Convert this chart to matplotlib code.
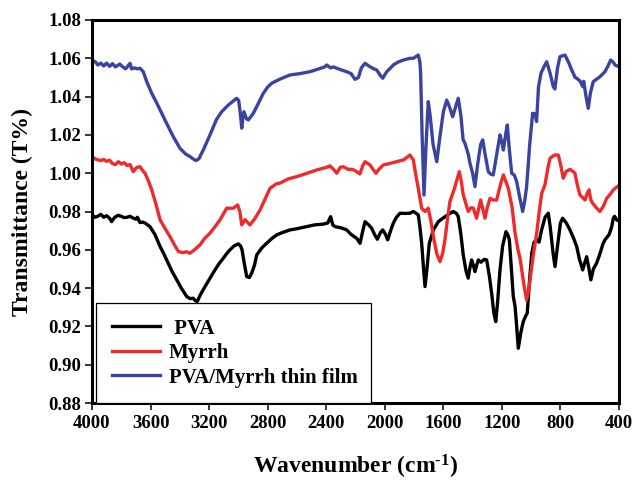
import matplotlib
matplotlib.use("Agg")
import matplotlib.pyplot as plt
import numpy as np

# ---------------- data ----------------
film_wn = [4000, 3975, 3960, 3940, 3920, 3900, 3880, 3860, 3840, 3810, 3790, 3770, 3740, 3730, 3710, 3690,
           3672, 3650, 3626, 3592, 3560, 3524, 3490, 3445, 3399, 3360, 3331, 3310, 3290, 3270, 3240, 3194,
           3150, 3114, 3069, 3012, 2998, 2985, 2977, 2968, 2962, 2945, 2932, 2898, 2860, 2830, 2800, 2772,
           2720, 2647, 2580, 2511, 2450, 2410, 2397, 2370, 2350, 2328, 2300, 2260, 2230, 2203, 2180, 2160,
           2135, 2101, 2075, 2055, 2030, 2014, 1987, 1960, 1942, 1910, 1873, 1828, 1805, 1785, 1771, 1760,
           1755, 1745, 1732, 1718, 1703, 1690, 1670, 1645, 1625, 1600, 1577, 1555, 1536, 1515, 1498, 1480,
           1465, 1452, 1430, 1418, 1400, 1384, 1365, 1345, 1331, 1315, 1293, 1276, 1259, 1235, 1213, 1200,
           1190, 1175, 1163, 1150, 1133, 1115, 1099, 1080, 1058, 1045, 1031, 1010, 990, 975, 963, 950, 933,
           910, 894, 870, 849, 838, 820, 803, 769, 745, 723, 700, 689, 665, 648, 641, 625, 610, 595, 576,
           555, 530, 496, 475, 457, 440, 427, 400]
film_t = [1.0591, 1.0580, 1.0565, 1.0575, 1.0560, 1.0575, 1.0558, 1.0572, 1.0555, 1.0570, 1.0555, 1.0545,
          1.0574, 1.0545, 1.0550, 1.0545, 1.0548, 1.0530, 1.0478, 1.0417, 1.0370, 1.0313, 1.0260, 1.0191,
          1.0130, 1.0100, 1.0087, 1.0075, 1.0066, 1.0075, 1.0121, 1.0200, 1.0280, 1.0321, 1.0356, 1.0391,
          1.0380, 1.0300, 1.0235, 1.0300, 1.0321, 1.0285, 1.0278, 1.0313, 1.0370, 1.0417, 1.0450, 1.0470,
          1.0490, 1.0513, 1.0520, 1.0530, 1.0545, 1.0555, 1.0565, 1.0550, 1.0555, 1.0548, 1.0540, 1.0530,
          1.0520, 1.0490, 1.0500, 1.0550, 1.0574, 1.0556, 1.0545, 1.0539, 1.0510, 1.0496, 1.0530, 1.0550,
          1.0565, 1.0580, 1.0591, 1.0600, 1.0600, 1.0610, 1.0617, 1.0580, 1.0520, 1.0200, 0.9886, 1.0150,
          1.0374, 1.0300, 1.0150, 1.0060, 1.0180, 1.0320, 1.0382, 1.0340, 1.0295, 1.0350, 1.0391, 1.0300,
          1.0175, 1.0156, 1.0100, 1.0052, 1.0000, 0.9930, 1.0050, 1.0150, 1.0174, 1.0100, 1.0008, 0.9995,
          0.9991, 1.0100, 1.0200, 1.0160, 1.0121, 1.0200, 1.0252, 1.0130, 1.0000, 0.9990, 0.9956, 0.9880,
          0.9800, 0.9850, 0.9930, 1.0150, 1.0313, 1.0310, 1.0270, 1.0450, 1.0522, 1.0560, 1.0582, 1.0520,
          1.0452, 1.0440, 1.0550, 1.0609, 1.0617, 1.0580, 1.0539, 1.0500, 1.0496, 1.0480, 1.0452, 1.0480,
          1.0400, 1.0339, 1.0420, 1.0478, 1.0490, 1.0504, 1.0530, 1.0560, 1.0591, 1.0580, 1.0565, 1.0556]

myrrh_wn = [4000, 3980, 3960, 3940, 3920, 3900, 3880, 3860, 3840, 3820, 3800, 3780, 3760, 3740, 3718, 3695,
            3672, 3655, 3638, 3615, 3592, 3560, 3535, 3500, 3467, 3440, 3410, 3380, 3355, 3331, 3300, 3262,
            3230, 3194, 3160, 3126, 3100, 3080, 3035, 3005, 2990, 2977, 2955, 2921, 2890, 2852, 2815, 2784,
            2740, 2716, 2660, 2602, 2530, 2465, 2400, 2374, 2350, 2328, 2305, 2283, 2250, 2220, 2192, 2170,
            2150, 2135, 2101, 2080, 2060, 2040, 2010, 1970, 1919, 1870, 1828, 1805, 1790, 1771, 1748, 1725,
            1703, 1685, 1668, 1645, 1623, 1605, 1589, 1570, 1555, 1527, 1491, 1478, 1464, 1430, 1410, 1395,
            1373, 1345, 1316, 1300, 1281, 1260, 1236, 1210, 1190, 1156, 1130, 1110, 1090, 1076, 1050, 1031,
            1015, 996, 980, 962, 945, 928, 906, 885, 871, 840, 815, 800, 781, 760, 735, 715, 701, 685, 667,
            645, 632, 620, 605, 592, 580, 555, 530, 505, 484, 460, 439, 420, 405]
myrrh_t = [1.0087, 1.0075, 1.0070, 1.0065, 1.0072, 1.0062, 1.0068, 1.0050, 1.0045, 1.0060, 1.0048, 1.0055,
           1.0040, 1.0045, 1.0008, 1.0030, 1.0034, 1.0015, 1.0000, 0.9960, 0.9913, 0.9830, 0.9756, 0.9710,
           0.9669, 0.9630, 0.9591, 0.9585, 0.9590, 0.9582, 0.9600, 0.9626, 0.9660, 0.9687, 0.9720, 0.9756,
           0.9790, 0.9817, 0.9817, 0.9834, 0.9800, 0.9730, 0.9757, 0.9730, 0.9760, 0.9808, 0.9870, 0.9921,
           0.9945, 0.9948, 0.9970, 0.9982, 1.0000, 1.0017, 1.0030, 1.0038, 1.0020, 1.0000, 1.0030, 1.0034,
           1.0020, 1.0020, 1.0008, 0.9996, 1.0040, 1.0060, 1.0043, 1.0020, 1.0000, 1.0020, 1.0043, 1.0050,
           1.0060, 1.0070, 1.0095, 1.0069, 1.0000, 0.9921, 0.9817, 0.9800, 0.9817, 0.9750, 0.9669, 0.9580,
           0.9538, 0.9580, 0.9652, 0.9770, 0.9852, 0.9913, 1.0008, 0.9960, 0.9887, 0.9800, 0.9820, 0.9817,
           0.9765, 0.9860, 0.9765, 0.9820, 0.9869, 0.9860, 0.9860, 0.9940, 0.9991, 0.9921, 0.9820, 0.9687,
           0.9600, 0.9556, 0.9420, 0.9338, 0.9400, 0.9512, 0.9600, 0.9687, 0.9800, 0.9895, 0.9939, 1.0030,
           1.0078, 1.0095, 1.0095, 1.0050, 0.9974, 1.0010, 1.0020, 1.0010, 1.0000, 0.9940, 0.9887, 0.9870,
           0.9860, 0.9890, 0.9913, 0.9860, 0.9843, 0.9820, 0.9800, 0.9830, 0.9869, 0.9890, 0.9913, 0.9925,
           0.9933]

pva_wn = [4000, 3980, 3960, 3940, 3920, 3900, 3880, 3866, 3845, 3820, 3800, 3780, 3760, 3740, 3718, 3700,
          3690, 3672, 3655, 3638, 3604, 3570, 3535, 3510, 3490, 3455, 3421, 3390, 3353, 3330, 3308, 3295,
          3281, 3260, 3228, 3195, 3160, 3130, 3103, 3080, 3057, 3030, 3001, 2985, 2975, 2960, 2943, 2925,
          2909, 2890, 2875, 2840, 2807, 2770, 2738, 2700, 2647, 2600, 2533, 2480, 2420, 2390, 2370, 2355,
          2340, 2300, 2260, 2230, 2192, 2169, 2150, 2135, 2110, 2090, 2070, 2051, 2030, 2014, 1995, 1980,
          1960, 1942, 1920, 1896, 1860, 1828, 1805, 1785, 1771, 1760, 1748, 1735, 1725, 1712, 1696, 1668,
          1634, 1589, 1555, 1532, 1510, 1498, 1480, 1464, 1445, 1430, 1420, 1407, 1395, 1384, 1372, 1361,
          1343, 1320, 1304, 1285, 1270, 1255, 1242, 1230, 1213, 1195, 1172, 1160, 1149, 1135, 1122, 1110,
          1100, 1088, 1070, 1054, 1040, 1027, 1010, 996, 980, 962, 946, 930, 905, 883, 870, 850, 837, 820,
          800, 785, 760, 735, 710, 689, 670, 648, 635, 621, 605, 592, 575, 553, 530, 510, 496, 467, 450,
          439, 430, 416, 400]
pva_t = [0.9782, 0.9770, 0.9775, 0.9785, 0.9770, 0.9778, 0.9765, 0.9747, 0.9770, 0.9780, 0.9775, 0.9768,
         0.9770, 0.9775, 0.9765, 0.9760, 0.9770, 0.9742, 0.9745, 0.9740, 0.9721, 0.9680, 0.9617, 0.9580,
         0.9547, 0.9490, 0.9443, 0.9400, 0.9356, 0.9345, 0.9347, 0.9335, 0.9330, 0.9365, 0.9408, 0.9450,
         0.9495, 0.9530, 0.9556, 0.9580, 0.9600, 0.9620, 0.9631, 0.9620, 0.9600, 0.9530, 0.9460, 0.9455,
         0.9478, 0.9520, 0.9573, 0.9610, 0.9634, 0.9660, 0.9678, 0.9690, 0.9704, 0.9710, 0.9721, 0.9730,
         0.9734, 0.9740, 0.9773, 0.9730, 0.9721, 0.9715, 0.9704, 0.9680, 0.9660, 0.9634, 0.9700, 0.9747,
         0.9730, 0.9713, 0.9680, 0.9655, 0.9690, 0.9704, 0.9680, 0.9652, 0.9700, 0.9739, 0.9770, 0.9791,
         0.9790, 0.9791, 0.9800, 0.9790, 0.9782, 0.9720, 0.9634, 0.9500, 0.9408, 0.9500, 0.9634, 0.9704,
         0.9747, 0.9773, 0.9790, 0.9800, 0.9790, 0.9773, 0.9680, 0.9573, 0.9490, 0.9452, 0.9500, 0.9547,
         0.9520, 0.9486, 0.9520, 0.9547, 0.9535, 0.9550, 0.9547, 0.9460, 0.9373, 0.9270, 0.9225, 0.9320,
         0.9495, 0.9620, 0.9695, 0.9680, 0.9652, 0.9500, 0.9356, 0.9304, 0.9210, 0.9086, 0.9170, 0.9225,
         0.9250, 0.9269, 0.9450, 0.9582, 0.9640, 0.9652, 0.9640, 0.9700, 0.9770, 0.9791, 0.9720, 0.9580,
         0.9512, 0.9620, 0.9740, 0.9765, 0.9740, 0.9704, 0.9660, 0.9617, 0.9550, 0.9495, 0.9530, 0.9564,
         0.9500, 0.9443, 0.9500, 0.9530, 0.9580, 0.9630, 0.9652, 0.9680, 0.9720, 0.9765, 0.9775, 0.9756,
         0.9750]

labels = [" PVA", "Myrrh", "PVA/Myrrh thin film"]
colors = ["#000000", "#ee2a2a", "#3a44a0"]
xticks = [4000, 3600, 3200, 2800, 2400, 2000, 1600, 1200, 800, 400]
yticks = [0.88, 0.90, 0.92, 0.94, 0.96, 0.98, 1.00, 1.02, 1.04, 1.06, 1.08]

# ---------------- style ----------------
plt.rcParams['font.family'] = ['Liberation Serif', 'DejaVu Serif']
plt.rcParams['font.weight'] = 'bold'
plt.rcParams['mathtext.fontset'] = 'custom'
plt.rcParams['mathtext.rm'] = 'Liberation Serif:bold'
plt.rcParams['mathtext.it'] = 'Liberation Serif:bold'
plt.rcParams['mathtext.bf'] = 'Liberation Serif:bold'

fig = plt.figure(figsize=(6.33, 4.84), dpi=100)
ax = fig.add_axes([92/633, 1-403/484, 527/633, 383/484])

series = [(pva_wn, pva_t), (myrrh_wn, myrrh_t), (film_wn, film_t)]
for (wn, t), lab, col in zip(series, labels, colors):
    ax.plot(wn, t, color=col, lw=2.4, label=lab, solid_joinstyle='round')

ax.set_xlim(4000, 400)
ax.set_ylim(0.88, 1.08)
ax.set_xticks(xticks)
ax.set_xticklabels([str(v) for v in xticks])
ax.set_yticks(yticks)
ax.set_yticklabels([f"{v:.2f}" for v in yticks])
ax.tick_params(axis='both', direction='out', length=5, width=1.1, labelsize=13.5, pad=3)
ax.tick_params(axis='x', pad=4)
for sp in ax.spines.values():
    sp.set_linewidth(2.2)

ax.set_xlabel(r"Wavenumber (cm$^{\text{-}1}$)", fontsize=17, fontweight='bold', labelpad=15)
ax.set_ylabel("Transmittance (T%)", fontsize=17, fontweight='bold', labelpad=11)

leg = ax.legend(loc='upper left', bbox_to_anchor=(4/527, 100/383, 275/527, 0.0), mode='expand',
                borderaxespad=0, fontsize=15, frameon=True, fancybox=False, framealpha=1,
                edgecolor='black', borderpad=0.75, labelspacing=0.22, handlelength=2.3,
                handletextpad=0.45)
leg.get_frame().set_linewidth(0.9)

fig.savefig("out.png", dpi=100)
